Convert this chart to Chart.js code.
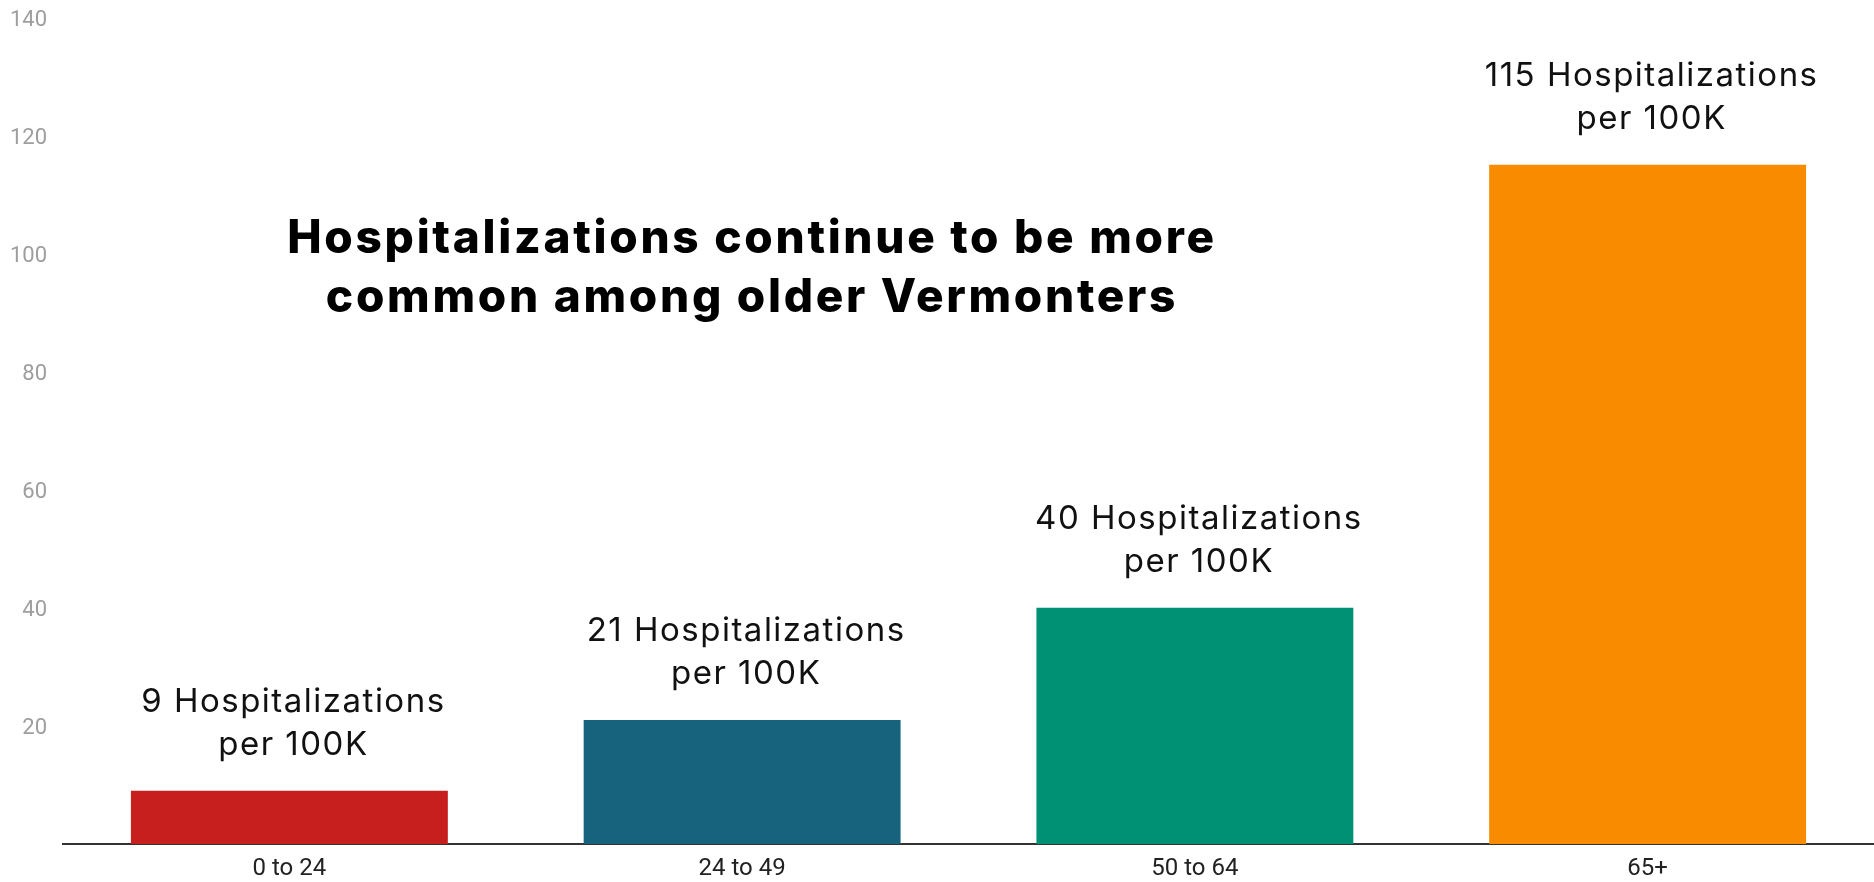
<!DOCTYPE html>
<html>
<head>
<meta charset="utf-8">
<title>Hospitalizations by age</title>
<script src="https://cdn.jsdelivr.net/npm/chart.js@4/dist/chart.umd.min.js"></script>
<style>
  html, body { margin: 0; padding: 0; background: #fff; }
  #wrap { position: relative; width: 1874px; height: 882px; }
</style>
</head>
<body>
<div id="wrap"><canvas id="chart"></canvas></div>
<script>
// data
const categories = ['0 to 24', '24 to 49', '50 to 64', '65+'];
const hospitalizations = [9, 21, 40, 115];
const yTickValues = [20, 40, 60, 80, 100, 120, 140];
const titleLines = ['Hospitalizations continue to be more', 'common among older Vermonters'];
const labelUnit = 'per 100K';

const barColors = ['#c71e1e', '#17637d', '#009174', '#f88b00'];

// title + value labels above each bar
const annotate = {
  id: 'annotate',
  afterDatasetsDraw(chart) {
    const ctx = chart.ctx;
    ctx.save();
    ctx.fillStyle = '#111';
    ctx.textAlign = 'center';
    ctx.textBaseline = 'alphabetic';
    ctx.font = '33px Inter, "Open Sans", sans-serif';
    ctx.letterSpacing = '1.5px';
    chart.getDatasetMeta(0).data.forEach((bar, i) => {
      const v = hospitalizations[i];
      ctx.fillText(v + ' Hospitalizations', bar.x + 4, bar.y - 79);
      ctx.fillText(labelUnit, bar.x + 4, bar.y - 36);
    });

    ctx.fillStyle = '#000';
    ctx.font = '800 46px Inter, "Open Sans", sans-serif';
    ctx.letterSpacing = '2.7px';
    ctx.fillText(titleLines[0], 752, 253);
    ctx.fillText(titleLines[1], 752, 312);
    ctx.restore();
  }
};

new Chart(document.getElementById('chart'), {
  type: 'bar',
  data: {
    labels: categories,
    datasets: [{
      data: hospitalizations,
      backgroundColor: barColors,
      borderWidth: 0,
      barPercentage: 0.7,
      categoryPercentage: 1
    }]
  },
  options: {
    responsive: true,
    maintainAspectRatio: false,
    animation: false,
    layout: { padding: 0 },
    plugins: {
      legend: { display: false },
      tooltip: { enabled: false }
    },
    scales: {
      x: {
        afterFit(scale) { scale.height = 38; },
        grid: { display: false, drawTicks: false },
        border: { display: true, color: '#333', width: 2 },
        ticks: {
          color: '#222',
          padding: 11,
          font: { family: 'Roboto', size: 24 }
        }
      },
      y: {
        min: 0,
        max: 140,
        afterFit(scale) { scale.width = 63; },
        afterBuildTicks(scale) {
          scale.ticks = yTickValues.map(v => ({ value: v }));
        },
        grid: { display: false, drawTicks: false },
        border: { display: false },
        ticks: {
          color: '#9e9e9e',
          padding: 16,
          labelOffset: 3,
          font: { family: 'Roboto', size: 22, lineHeight: 0.1 }
        }
      }
    }
  },
  plugins: [annotate]
});
</script>
</body>
</html>
